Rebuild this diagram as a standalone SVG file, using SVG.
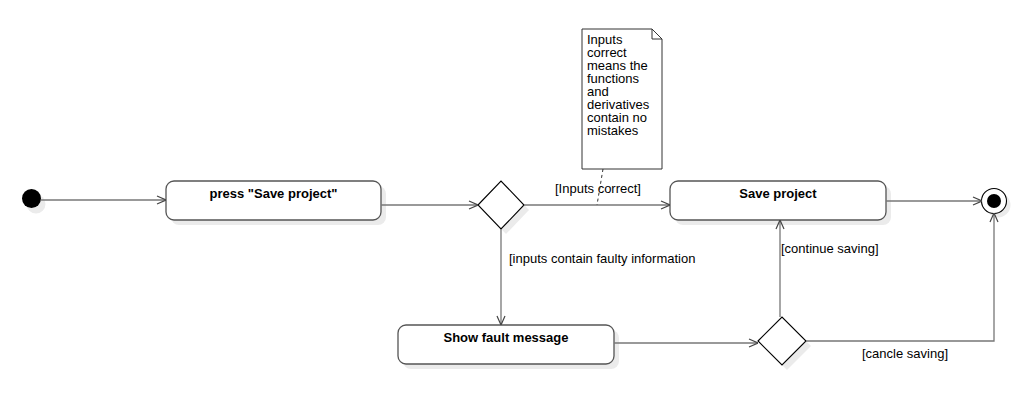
<svg xmlns="http://www.w3.org/2000/svg" width="1036" height="401" viewBox="0 0 1036 401">
<defs>
<style>
.sh{fill:#ebebeb;stroke:none}
.box{fill:#fff;stroke:#555;stroke-width:1.3}
.dia{fill:#fff;stroke:#000;stroke-width:1.1}
.edge{fill:none;stroke:#777;stroke-width:1.3}
.t{font-family:"Liberation Sans",Arial,sans-serif;font-size:13px;fill:#000}
.b{font-weight:bold;text-anchor:middle}
</style>
<marker id="arr" viewBox="0 0 10 10" refX="10" refY="5" markerWidth="10" markerHeight="10" markerUnits="userSpaceOnUse" orient="auto">
<path d="M1,1 L10,5 L1,9" fill="none" stroke="#444" stroke-width="1.2"/>
</marker>
</defs>
<rect width="1036" height="401" fill="#fff"/>

<g id="start">
<circle class="sh" cx="36" cy="204" r="9.5"/>
<circle cx="31.5" cy="198.5" r="9.5" fill="#000"/>
</g>

<g id="press">
<rect class="sh" x="171" y="186" width="215" height="39" rx="8"/>
<rect class="box" x="166" y="181" width="215" height="39" rx="8"/>
<text class="t b" x="273.5" y="198">press "Save project"</text>
</g>

<g id="decision1">
<polygon class="sh" points="483,210 506,186 529,210 506,234"/>
<polygon class="dia" points="478,205 501,181 524,205 501,229"/>
</g>

<g id="note">
<path d="M582,29 L652,29 L662,39 L662,169 L582,169 Z" fill="#fff" stroke="#333" stroke-width="1"/>
<path d="M652,29 L652,39 L662,39" fill="none" stroke="#333" stroke-width="1"/>
<text class="t" x="587" y="44">Inputs</text>
<text class="t" x="587" y="57">correct</text>
<text class="t" x="587" y="70">means the</text>
<text class="t" x="587" y="83">functions</text>
<text class="t" x="587" y="96">and</text>
<text class="t" x="587" y="109">derivatives</text>
<text class="t" x="587" y="122">contain no</text>
<text class="t" x="587" y="135">mistakes</text>
</g>

<g id="save">
<rect class="sh" x="675" y="186" width="216" height="39" rx="8"/>
<rect class="box" x="670" y="181" width="216" height="39" rx="8"/>
<text class="t b" x="778" y="198">Save project</text>
</g>

<g id="end">
<circle class="sh" cx="998" cy="205" r="12.5"/>
<circle cx="994" cy="201" r="12.5" fill="#fff" stroke="#000" stroke-width="1.1"/>
<circle cx="994" cy="201" r="7" fill="#000"/>
</g>

<g id="fault">
<rect class="sh" x="403" y="330" width="216" height="39" rx="8"/>
<rect class="box" x="398" y="325" width="216" height="39" rx="8"/>
<text class="t b" x="506" y="342">Show fault message</text>
</g>

<g id="decision2">
<polygon class="sh" points="763,346 787,322 811,346 787,370"/>
<polygon class="dia" points="758,341 782,317 806,341 782,365"/>
</g>

<g id="connectors">
<line class="edge" x1="41" y1="200" x2="166" y2="200" marker-end="url(#arr)"/>
<line class="edge" x1="381" y1="205" x2="478" y2="205" marker-end="url(#arr)"/>
<line class="edge" x1="524" y1="205" x2="670" y2="205" marker-end="url(#arr)"/>
<text class="t" x="555" y="193">[Inputs correct]</text>
<line class="edge" x1="501" y1="229" x2="501" y2="325" marker-end="url(#arr)"/>
<text class="t" x="509" y="263">[inputs contain faulty information</text>
<line class="edge" x1="886" y1="201" x2="982" y2="201" marker-end="url(#arr)"/>
<line class="edge" x1="614" y1="343" x2="758" y2="343" marker-end="url(#arr)"/>
<line class="edge" x1="780" y1="317" x2="780" y2="220" marker-end="url(#arr)"/>
<text class="t" x="781" y="253">[continue saving]</text>
<polyline class="edge" points="806,341 994,341 994,213" marker-end="url(#arr)"/>
<text class="t" x="862" y="358">[cancle saving]</text>
<line x1="603" y1="169" x2="597" y2="205" stroke="#333" stroke-width="1" stroke-dasharray="3,3"/>
</g>
</svg>
